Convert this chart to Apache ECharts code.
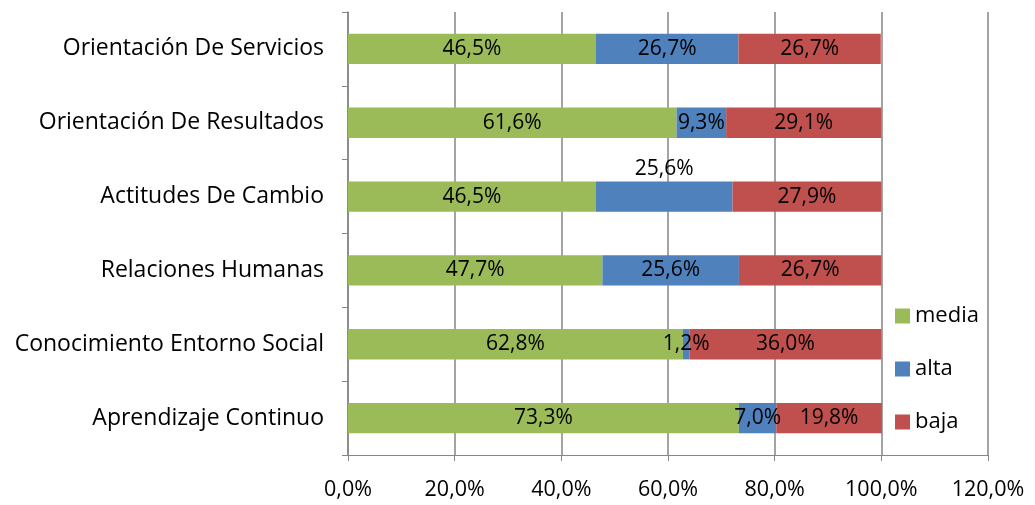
<!DOCTYPE html>
<html>
<head>
<meta charset="utf-8">
<script src="https://cdn.jsdelivr.net/npm/echarts@6/dist/echarts.min.js"></script>
<style>
  html, body { margin: 0; padding: 0; background: #fff; }
  #main { width: 1035px; height: 505px; }
</style>
</head>
<body>
<div id="main"></div>
<script>
// categories from bottom to top
const categories = ['Aprendizaje Continuo', 'Conocimiento Entorno Social', 'Relaciones Humanas',
  'Actitudes De Cambio', 'Orientación De Resultados', 'Orientación De Servicios']
const media = [73.3, 62.8, 47.7, 46.5, 61.6, 46.5]
const alta = [7.0, 1.2, 25.6, 25.6, 9.3, 26.7]
const baja = [19.8, 36.0, 26.7, 27.9, 29.1, 26.7]
const xTicks = [0, 20, 40, 60, 80, 100, 120]

const font = "'Open Sans', 'Noto Sans', sans-serif"

function pct(v) {
  return v.toFixed(1).replace('.', ',') + '%'
}

function barLabel() {
  return {
    show: true,
    position: 'inside',
    color: '#000',
    fontSize: 21,
    fontFamily: font,
    formatter: p => pct(p.value)
  }
}

// alta label for "Actitudes De Cambio" sits above the bar
const altaData = alta.map((v, i) => i === 3
  ? { value: v, label: { position: 'top', distance: 2 } }
  : v)

const chart = echarts.init(document.getElementById('main'), null, { renderer: 'canvas' })
chart.setOption({
  animation: false,
  color: ['#9BBB59', '#4F81BD', '#C0504D'],
  grid: { left: 348, right: 47, top: 12, bottom: 50 },
  legend: {
    orient: 'vertical',
    left: 890,
    top: 300,
    itemWidth: 15,
    itemHeight: 15,
    itemGap: 31,
    icon: 'rect',
    textStyle: { fontSize: 22, fontFamily: font, color: '#000' },
    data: ['media', 'alta', 'baja']
  },
  xAxis: {
    type: 'value',
    min: xTicks[0],
    max: xTicks[xTicks.length - 1],
    interval: 20,
    axisLine: { show: true, lineStyle: { color: '#868686', width: 1 } },
    axisTick: { show: true, length: 6, lineStyle: { color: '#868686' } },
    splitLine: { show: true, lineStyle: { color: '#868686', width: 1.5 } },
    axisLabel: {
      color: '#000',
      fontSize: 21.5,
      fontFamily: font,
      margin: 24,
      formatter: v => pct(v)
    }
  },
  yAxis: {
    type: 'category',
    data: categories,
    axisLine: { show: true, lineStyle: { color: '#868686', width: 1.5 } },
    axisTick: { show: true, length: 6, lineStyle: { color: '#868686' } },
    axisLabel: { color: '#000', fontSize: 23, fontFamily: font, margin: 24 }
  },
  series: [
    { name: 'media', type: 'bar', stack: 'total', barCategoryGap: '59%', data: media, label: barLabel() },
    { name: 'alta', type: 'bar', stack: 'total', data: altaData, label: barLabel() },
    { name: 'baja', type: 'bar', stack: 'total', data: baja, label: barLabel() }
  ]
})
</script>
</body>
</html>
